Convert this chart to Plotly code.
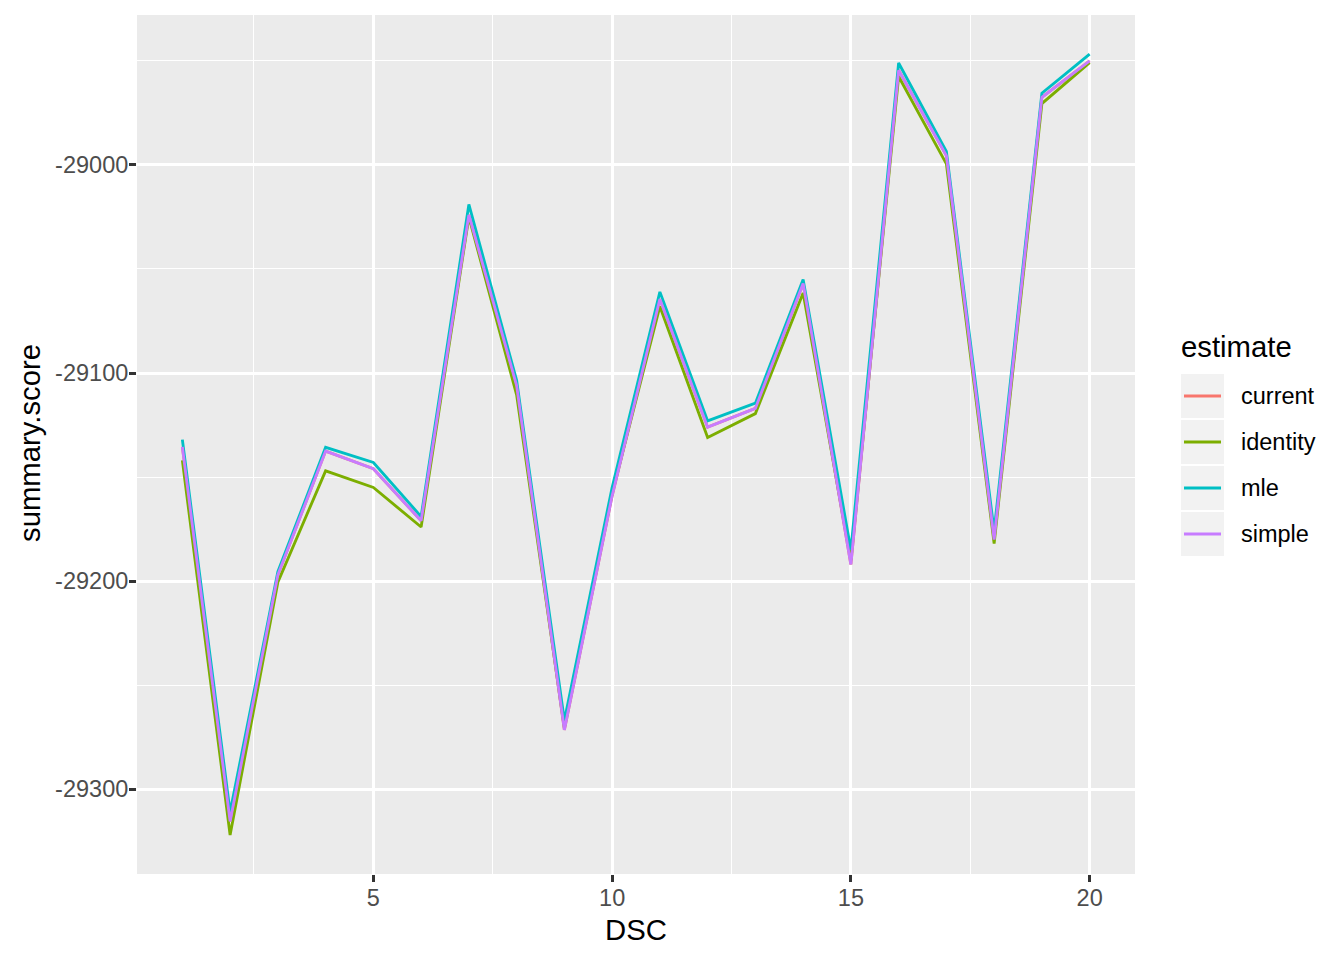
import plotly.graph_objects as go

# ---- data ----
dsc = list(range(1, 21))
current = [-29135.5, -29315.5, -29197.0, -29137.5, -29146.0, -29171.0, -29024.0, -29106.0, -29271.5, -29159.0,
           -29064.5, -29126.0, -29117.0, -29057.0, -29192.0, -28954.5, -28995.5, -29180.0, -28967.5, -28950.0]
identity = [-29142.0, -29322.0, -29200.5, -29147.0, -29155.0, -29174.0, -29025.0, -29110.5, -29270.5, -29158.0,
            -29068.0, -29131.0, -29119.5, -29061.5, -29190.0, -28957.5, -28999.5, -29182.0, -28970.5, -28950.8]
mle = [-29132.0, -29311.0, -29195.5, -29135.7, -29143.0, -29169.0, -29019.0, -29103.5, -29267.0, -29155.0,
       -29061.0, -29123.0, -29114.5, -29055.0, -29185.0, -28951.0, -28993.5, -29176.0, -28965.5, -28946.7]
simple = [-29135.5, -29315.5, -29197.0, -29137.5, -29146.0, -29171.0, -29024.0, -29106.0, -29271.5, -29159.0,
          -29064.5, -29126.0, -29117.0, -29057.0, -29192.0, -28954.5, -28995.5, -29180.0, -28967.5, -28950.0]

series_names = ["current", "identity", "mle", "simple"]
series_values = [current, identity, mle, simple]
series_colors = ["#F8766D", "#7CAE00", "#00BFC4", "#C77CFF"]

x_tickvals = [5, 10, 15, 20]
x_ticktext = ["5", "10", "15", "20"]
y_tickvals = [-29300, -29200, -29100, -29000]
y_ticktext = ["-29300", "-29200", "-29100", "-29000"]

FONT = "Liberation Sans, Arial, Helvetica, sans-serif"
TICK_SIZE = 23.5
TITLE_SIZE = 29.3
LW = 2.85

# ggplot-style 5% expansion
all_vals = [v for s in series_values for v in s]
ymin, ymax = min(all_vals), max(all_vals)
ypad = (ymax - ymin) * 0.05
xmin, xmax = min(dsc), max(dsc)
xpad = (xmax - xmin) * 0.05

fig = go.Figure()
for name, vals, col in zip(series_names, series_values, series_colors):
    fig.add_trace(go.Scatter(x=dsc, y=vals, mode="lines", name=name,
                             line=dict(color=col, width=LW), showlegend=False))

# page is offset by the 8px body margin; work in page pixels and convert
OFF = 8
W, H = 1344, 960
PL, PR, PT, PB = 137, 1135, 15, 874  # panel edges in page pixels
L = PL - OFF
T = PT - OFF
R = W - (PR - OFF)
B = H - (PB - OFF)

def px_to_paper_x(px):
    return (px - PL) / (PR - PL)

def px_to_paper_y(py):
    return (PB - py) / (PB - PT)

fig.update_layout(
    width=W, height=H,
    margin=dict(l=L, r=R, t=T, b=B, autoexpand=False),
    paper_bgcolor="white", plot_bgcolor="#EBEBEB",
    font=dict(family=FONT, color="black"),
    showlegend=False,
    xaxis=dict(range=[xmin - xpad, xmax + xpad], tickmode="array", tickvals=x_tickvals, ticktext=x_ticktext,
               showgrid=True, gridcolor="white", gridwidth=LW, zeroline=False, showline=False,
               ticks="outside", ticklen=7, tickwidth=LW, tickcolor="#333333", ticklabelstandoff=-4,
               tickfont=dict(size=TICK_SIZE, color="#4D4D4D", family=FONT),
               minor=dict(tickmode="array", tickvals=[2.5, 7.5, 12.5, 17.5], showgrid=True,
                          gridcolor="white", gridwidth=LW / 2, ticks="")),
    yaxis=dict(range=[ymin - ypad, ymax + ypad], tickmode="array", tickvals=y_tickvals, ticktext=y_ticktext,
               showgrid=True, gridcolor="white", gridwidth=LW, zeroline=False, showline=False,
               ticks="outside", ticklen=7, tickwidth=LW, tickcolor="#333333", ticklabelstandoff=-4,
               tickfont=dict(size=TICK_SIZE, color="#4D4D4D", family=FONT),
               minor=dict(tickmode="array", tickvals=[-29350, -29250, -29150, -29050, -28950], showgrid=True,
                          gridcolor="white", gridwidth=LW / 2, ticks="")),
)

# axis titles
fig.add_annotation(text="DSC", xref="paper", yref="paper", x=px_to_paper_x(636), y=px_to_paper_y(929),
                   xanchor="center", yanchor="middle", showarrow=False,
                   font=dict(size=TITLE_SIZE, color="black", family=FONT))
fig.add_annotation(text="summary.score", xref="paper", yref="paper", x=px_to_paper_x(29), y=px_to_paper_y(443),
                   xanchor="center", yanchor="middle", textangle=-90, showarrow=False,
                   font=dict(size=TITLE_SIZE, color="black", family=FONT))

# legend (ggplot style, drawn manually)
fig.add_annotation(text="estimate", xref="paper", yref="paper", x=px_to_paper_x(1179), y=px_to_paper_y(347),
                   xanchor="left", yanchor="middle", showarrow=False,
                   font=dict(size=TITLE_SIZE, color="black", family=FONT))
key_top0 = 374
stride = 46
for i, (name, col) in enumerate(zip(series_names, series_colors)):
    top = key_top0 + i * stride
    cy = top + 22
    fig.add_shape(type="rect", xref="paper", yref="paper",
                  x0=px_to_paper_x(1181), x1=px_to_paper_x(1224), y0=px_to_paper_y(top), y1=px_to_paper_y(top + 44),
                  fillcolor="#F2F2F2", line=dict(width=0), layer="above")
    fig.add_shape(type="line", xref="paper", yref="paper",
                  x0=px_to_paper_x(1184), x1=px_to_paper_x(1221), y0=px_to_paper_y(cy), y1=px_to_paper_y(cy),
                  line=dict(color=col, width=LW), layer="above")
    fig.add_annotation(text=name, xref="paper", yref="paper", x=px_to_paper_x(1239), y=px_to_paper_y(cy),
                       xanchor="left", yanchor="middle", showarrow=False,
                       font=dict(size=TICK_SIZE, color="black", family=FONT))

fig.write_html("out.html")
